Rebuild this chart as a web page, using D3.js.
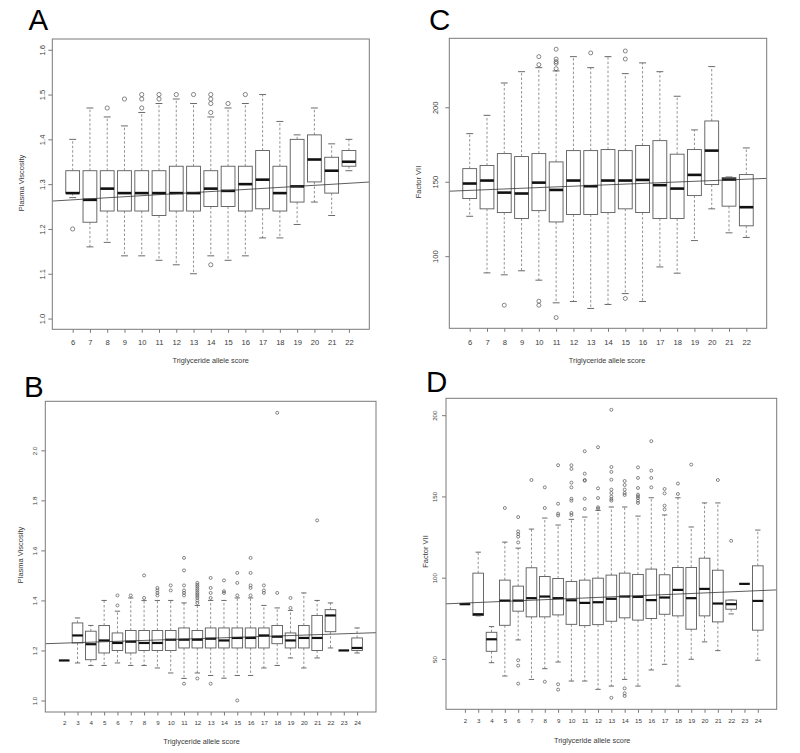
<!DOCTYPE html>
<html><head><meta charset="utf-8">
<script src="https://cdn.jsdelivr.net/npm/d3@7/dist/d3.min.js"></script>
<style>
body{margin:0;background:#fff}
svg{display:block}
text{font-family:"Liberation Sans",Arial,Helvetica,sans-serif}
</style>
</head><body>
<svg id="chart" width="800" height="753"></svg>
<script>
// ---------------- Panel A: Plasma Viscosity vs score (6..22) ----------------
const aScores = [6,7,8,9,10,11,12,13,14,15,16,17,18,19,20,21,22];
// [lower whisker, Q1, median, Q3, upper whisker]
const aStats = [
  [1.27,1.28,1.28,1.33,1.40],[1.16,1.215,1.265,1.33,1.47],[1.17,1.24,1.29,1.33,1.45],
  [1.14,1.24,1.28,1.33,1.43],[1.14,1.24,1.28,1.33,1.46],[1.13,1.23,1.28,1.33,1.48],
  [1.12,1.24,1.28,1.34,1.49],[1.10,1.24,1.28,1.34,1.48],[1.14,1.25,1.29,1.33,1.45],
  [1.13,1.25,1.285,1.34,1.47],[1.14,1.24,1.30,1.34,1.48],[1.18,1.245,1.31,1.375,1.50],
  [1.18,1.24,1.28,1.34,1.44],[1.21,1.26,1.295,1.40,1.41],[1.26,1.305,1.355,1.41,1.47],
  [1.23,1.28,1.33,1.36,1.39],[1.33,1.34,1.35,1.375,1.40]
];
const aOutliers = [
  [1.20],[],[1.47],[1.49],[1.47,1.49,1.50],[1.49,1.50],[1.50],[1.50],
  [1.46,1.48,1.49,1.50,1.12],[1.48],[1.50],[],[],[],[],[],[]
];
const aTrend = [1.265, 1.302];       // fitted line at first / last score
const aYLim = [1.0, 1.6];
const aYTicks = [1.0,1.1,1.2,1.3,1.4,1.5,1.6];

// ---------------- Panel C: Factor VII vs score (6..22) ----------------
const cScores = [6,7,8,9,10,11,12,13,14,15,16,17,18,19,20,21,22];
const cStats = [
  [126.8,138.7,148.8,158.8,182.3],[88.8,131.8,150.8,160.9,194.6],[87.5,129.3,142.7,168.9,216.3],
  [90.2,125.3,142.1,166.9,223.9],[83.9,130.6,149.4,168.9,226.6],[68.7,123.0,144.5,163.3,224.4],
  [69.6,128.0,150.8,170.9,234.0],[64.9,128.0,147.0,170.9,226.6],[67.6,129.3,150.8,171.6,234.0],
  [74.9,131.8,150.8,170.9,222.6],[69.6,129.3,151.2,174.3,229.8],[92.8,125.3,147.7,177.6,223.9],
  [88.6,125.3,145.4,168.5,207.4],[110.5,140.7,154.6,171.6,184.8],[131.8,148.1,170.9,190.8,227.3],
  [115.7,133.6,151.5,152.8,153.2],[112.6,120.4,132.9,154.8,172.7]
];
const cOutliers = [
  [],[],[67.1],[],[234.0,228.6,69.8,67.1],[239.0,232.4,230.6,229.5,225.9,58.8],
  [],[236.5],[],[237.8,232.4,71.6],[],[],[],[],[],[],[]
];
const cTrend = [144.2, 151.7];
const cYLim = [58.8, 239.1];
const cYTicks = [100,150,200];

// ---------------- Panel B: Plasma Viscosity vs score (2..24) ----------------
const bScores = [2,3,4,5,6,7,8,9,10,11,12,13,14,15,16,17,18,19,20,21,22,23,24];
const bStats = [
  [1.16,1.16,1.16,1.16,1.16],[1.15,1.23,1.26,1.31,1.33],[1.14,1.163,1.225,1.277,1.30],
  [1.14,1.19,1.24,1.30,1.40],[1.15,1.20,1.23,1.27,1.357],[1.14,1.19,1.235,1.28,1.41],
  [1.14,1.20,1.23,1.28,1.40],[1.13,1.20,1.23,1.28,1.40],[1.11,1.20,1.243,1.28,1.40],
  [1.088,1.21,1.243,1.29,1.39],[1.11,1.21,1.243,1.28,1.38],[1.10,1.21,1.247,1.29,1.40],
  [1.089,1.21,1.24,1.29,1.40],[1.10,1.21,1.25,1.29,1.41],[1.10,1.21,1.25,1.29,1.41],
  [1.13,1.21,1.26,1.29,1.38],[1.14,1.227,1.255,1.30,1.37],[1.17,1.21,1.24,1.27,1.36],
  [1.13,1.21,1.25,1.30,1.43],[1.17,1.20,1.25,1.34,1.40],[1.21,1.275,1.34,1.363,1.39],
  [1.20,1.20,1.20,1.20,1.20],[1.19,1.20,1.21,1.25,1.29]
];
const bOutliers = [
  [],[],[],[],[1.42,1.38],[1.42],[1.50,1.41],[1.45,1.44,1.43,1.42],[1.46,1.44],
  [1.57,1.52,1.46,1.44,1.43,1.42,1.067],
  [1.47,1.462,1.455,1.447,1.44,1.432,1.425,1.418,1.41,1.40,1.39,1.088],
  [1.49,1.45,1.43,1.41,1.067],[1.48,1.437,1.43],[1.51,1.47,1.42,1.0],
  [1.57,1.51,1.46,1.45,1.42],[1.46,1.44,1.43],[2.15,1.43],[1.41,1.37],[],[1.72],[],[],[]
];
const bTrend = [1.2295, 1.2685];
const bYLim = [1.0, 2.15];
const bYTicks = [1.0,1.2,1.4,1.6,1.8,2.0];

// ---------------- Panel D: Factor VII vs score (2..24) ----------------
const dScores = [2,3,4,5,6,7,8,9,10,11,12,13,14,15,16,17,18,19,20,21,22,23,24];
const dStats = [
  [83.7,83.7,83.7,83.7,83.7],[76.5,76.7,77.5,102.8,115.7],[47.7,54.7,62.1,66.4,69.9],
  [39.5,70.7,85.9,98.5,121.9],[61.7,79.4,85.9,94.8,118.2],[37.4,75.9,87.4,106.1,129.9],
  [44.0,75.9,88.4,100.7,136.7],[48.1,77.1,87.4,99.5,132.4],[36.4,71.3,86.1,97.7,135.9],
  [36.4,70.5,84.5,98.5,137.3],[31.3,71.1,84.9,99.7,141.4],[33.3,73.2,87.0,101.6,143.5],
  [37.4,75.3,88.4,102.8,143.5],[33.3,73.9,88.2,102.0,137.9],[43.2,74.9,86.2,105.3,149.2],
  [46.7,77.5,87.8,101.8,138.6],[33.3,76.5,92.5,106.3,149.2],[49.8,68.3,87.4,106.3,131.2],
  [60.5,76.5,93.1,112.0,146.0],[55.1,72.8,84.1,104.6,146.0],[77.7,80.6,83.7,86.2,86.2],
  [96.2,96.2,96.2,96.2,96.2],[49.2,67.7,85.7,107.3,129.3]
];
const dOutliers = [
  [],[],[],[142.9],[137.3,128.5,126.8,125.2,121.7,49.2,45.9,34.8],[160.1],[155.6,142.9,36.0],
  [169.2,145.5,139.4,138.3,34.4,31.1],[169.2,166.9,158.5,155.6,148.6,147.4,139.8,138.6],
  [177.8,164.0,160.1,159.7,148.6,142.3],[180.3,155.0,149.0,143.3,142.5],
  [203.3,168.1,165.1,160.3,154.2,152.1,149.9,148.4,147.4,26.1],
  [159.5,157.0,154.2,152.1,150.9,31.9,28.8,27.2],
  [167.9,161.4,155.2,151.1,150.1,149.0,147.4,146.0],[184.0,165.9,161.4,155.6],
  [154.6,151.9,144.3,142.0],[157.9,151.5],[169.6],[],[160.1],[122.7],[],[]
];
const dTrend = [84.4, 92.0];
const dYLim = [26.1, 203.3];
const dYTicks = [50,100,150,200];

const xTitle = "Triglyceride allele score";

// ---------------- layout (positions / styles only) ----------------
const panels = [
  {letter:"A", scores:aScores, stats:aStats, outliers:aOutliers, trend:aTrend, ylim:aYLim, yticks:aYTicks,
   yfmt:d3.format(".1f"), ylabel:"Plasma Viscosity",
   frame:[52.3,39,369.3,329.3], letterXY:[28.5,30], fs:7.6, ylabX:42.5, xlabY:345.5,
   xtitle:[210.7,363.3], ytitle:[21.7,183], r:2.1, medW:2.6},
  {letter:"C", scores:cScores, stats:cStats, outliers:cOutliers, trend:cTrend, ylim:cYLim, yticks:cYTicks,
   yfmt:d3.format("d"), ylabel:"Factor VII",
   frame:[449.3,38.3,766.7,328.3], letterXY:[429,30], fs:7.6, ylabX:435, xlabY:345.3,
   xtitle:[607,362.6], ytitle:[418.3,182], r:2.0, medW:2.6},
  {letter:"B", scores:bScores, stats:bStats, outliers:bOutliers, trend:bTrend, ylim:bYLim, yticks:bYTicks,
   yfmt:d3.format(".1f"), ylabel:"Plasma Viscosity",
   frame:[45.3,401.3,376,712], letterXY:[24,397], fs:6.2, ylabX:35, xlabY:725,
   xtitle:[201.5,744.3], ytitle:[20,555], r:1.5, medW:2.2},
  {letter:"D", scores:dScores, stats:dStats, outliers:dOutliers, trend:dTrend, ylim:dYLim, yticks:dYTicks,
   yfmt:d3.format("d"), ylabel:"Factor VII",
   frame:[446,398.3,776.7,709.3], letterXY:[426,392], fs:6.2, ylabX:435, xlabY:723,
   xtitle:[592.2,742.5], ytitle:[425,551.5], r:1.5, medW:2.2}
];

const svg = d3.select("#chart");
const TXT = "#3a3a3a", FRAME = "#7a7a7a", BOX = "#5a5a5a", WHISK = "#777";

panels.forEach(p => {
  const [x0,y0,x1,y1] = p.frame;
  const n = p.scores.length;
  const g = svg.append("g");
  // R-style axis: positions 1..n, xlim (0.5, n+0.5) extended by 4%
  const x = d3.scaleLinear().domain([0.5 - 0.04*n, n + 0.5 + 0.04*n]).range([x0, x1]);
  const span = p.ylim[1] - p.ylim[0];
  const y = d3.scaleLinear().domain([p.ylim[0] - 0.04*span, p.ylim[1] + 0.04*span]).range([y1, y0]);
  const unit = x(2) - x(1);
  const bw = 0.8 * unit, cw = bw / 2;

  // panel letter
  svg.append("text").attr("x", p.letterXY[0]).attr("y", p.letterXY[1])
    .attr("font-size", 29.5).attr("fill", "#000").text(p.letter);

  // y axis
  const yAxis = d3.axisLeft(y).tickValues(p.yticks).tickFormat(p.yfmt).tickSize(4).tickSizeOuter(0);
  const ya = g.append("g").attr("transform", `translate(${x0},0)`).call(yAxis);
  ya.select(".domain").remove();
  ya.selectAll(".tick line").attr("stroke", FRAME);
  ya.selectAll(".tick text")
    .attr("font-size", p.fs).attr("fill", TXT)
    .attr("text-anchor", "middle").attr("dy", null).attr("x", null)
    .attr("transform", `translate(${p.ylabX - x0 + 0.36*p.fs},0) rotate(-90)`);

  // x axis
  const xAxis = d3.axisBottom(x).tickValues(d3.range(1, n + 1))
    .tickFormat((d, i) => p.scores[i]).tickSize(3.5).tickSizeOuter(0);
  const xa = g.append("g").attr("transform", `translate(0,${y1})`).call(xAxis);
  xa.select(".domain").remove();
  xa.selectAll(".tick line").attr("stroke", FRAME);
  xa.selectAll(".tick text").attr("font-size", p.fs).attr("fill", TXT)
    .attr("dy", null).attr("y", p.xlabY - y1);

  // titles
  g.append("text").attr("x", p.xtitle[0]).attr("y", p.xtitle[1])
    .attr("text-anchor", "middle").attr("font-size", 7.3).attr("fill", TXT).text(xTitle);
  g.append("text").attr("text-anchor", "middle").attr("font-size", 7.5).attr("fill", TXT)
    .attr("transform", `translate(${p.ytitle[0] + 0.36*7.5},${p.ytitle[1]}) rotate(-90)`)
    .text(p.ylabel);

  // clip for trend line
  const cid = "clip" + p.letter;
  svg.append("clipPath").attr("id", cid).append("rect")
    .attr("x", x0).attr("y", y0).attr("width", x1 - x0).attr("height", y1 - y0);

  // boxes
  const boxes = g.selectAll("g.box").data(p.stats).join("g").attr("class", "box");
  boxes.each(function(s, i) {
    const bg = d3.select(this);
    const cx = x(i + 1);
    const [lo, q1, med, q3, hi] = s;
    // whiskers
    bg.append("line").attr("x1", cx).attr("x2", cx).attr("y1", y(q3)).attr("y2", y(hi))
      .attr("stroke", WHISK).attr("stroke-width", 0.8).attr("stroke-dasharray", "2.5,2");
    bg.append("line").attr("x1", cx).attr("x2", cx).attr("y1", y(q1)).attr("y2", y(lo))
      .attr("stroke", WHISK).attr("stroke-width", 0.8).attr("stroke-dasharray", "2.5,2");
    // staples
    [lo, hi].forEach(v => bg.append("line").attr("x1", cx - cw/2).attr("x2", cx + cw/2)
      .attr("y1", y(v)).attr("y2", y(v)).attr("stroke", BOX).attr("stroke-width", 0.9));
    // box
    bg.append("rect").attr("x", cx - bw/2).attr("width", bw)
      .attr("y", y(q3)).attr("height", Math.max(0, y(q1) - y(q3)))
      .attr("fill", "#fff").attr("stroke", BOX).attr("stroke-width", 0.9);
    // median
    bg.append("line").attr("x1", cx - bw/2).attr("x2", cx + bw/2)
      .attr("y1", y(med)).attr("y2", y(med)).attr("stroke", "#111").attr("stroke-width", p.medW);
    // outliers
    bg.selectAll("circle").data(p.outliers[i]).join("circle")
      .attr("cx", cx).attr("cy", v => y(v)).attr("r", p.r)
      .attr("fill", "none").attr("stroke", "#555").attr("stroke-width", 0.7);
  });

  // fitted trend line across the whole plot region
  const slope = (p.trend[1] - p.trend[0]) / (n - 1);
  const lineAt = pos => p.trend[0] + (pos - 1) * slope;
  const [dx0, dx1] = x.domain();
  g.append("line").attr("clip-path", `url(#${cid})`)
    .attr("x1", x(dx0)).attr("x2", x(dx1)).attr("y1", y(lineAt(dx0))).attr("y2", y(lineAt(dx1)))
    .attr("stroke", "#333").attr("stroke-width", 0.8);

  // frame
  g.append("rect").attr("x", x0).attr("y", y0).attr("width", x1 - x0).attr("height", y1 - y0)
    .attr("fill", "none").attr("stroke", FRAME).attr("stroke-width", 1);
});
</script>
</body></html>
